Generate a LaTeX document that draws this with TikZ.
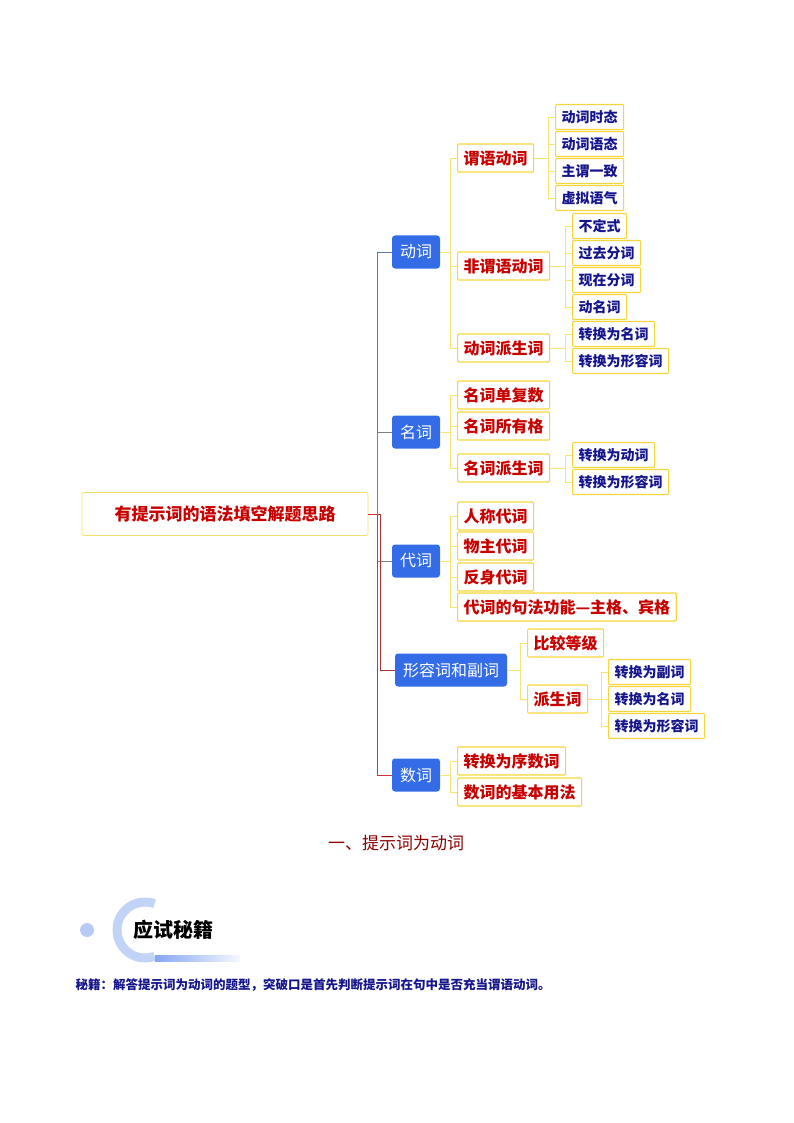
\documentclass[tikz,border=0pt]{standalone}
\usepackage{fontspec}
\newfontfamily\cjk{Noto Sans CJK SC}
\usetikzlibrary{arrows,calc,shapes}
\definecolor{lblue}{RGB}{52,108,232}
\definecolor{dred}{RGB}{200,0,0}
\definecolor{navy}{RGB}{20,20,140}
\definecolor{ylw}{RGB}{245,215,60}
\tikzstyle{root}=[rectangle,draw=ylw!80,line width=0.8pt,fill=white,rounded corners=2pt,minimum width=286pt,minimum height=43pt,font=\cjk\bfseries\fontsize{17}{17}\selectfont,text=dred]
\tikzstyle{lone}=[rectangle,fill=lblue,rounded corners=3pt,minimum height=33pt,inner xsep=8pt,font=\cjk\fontsize{16}{16}\selectfont,text=white]
\tikzstyle{ltwo}=[rectangle,draw=ylw,line width=1.2pt,fill=white,rounded corners=1pt,minimum height=28pt,inner xsep=6pt,font=\cjk\bfseries\fontsize{16}{16}\selectfont,text=dred,anchor=west]
\tikzstyle{lthree}=[rectangle,draw=ylw,line width=1.2pt,fill=white,rounded corners=1pt,minimum height=25pt,inner xsep=6pt,font=\cjk\bfseries\fontsize{14}{14}\selectfont,text=navy,anchor=west]
\tikzstyle{link}=[draw=ylw!70,line width=0.6pt]
\newcommand{\branch}[4][ylw!70]{\draw[link,draw=#1] (#2.east) -| ([xshift=-#4pt]#3.west) -- (#3.west);}

\begin{document}
\begin{tikzpicture}[x=1pt,y=-1pt]
	\useasboundingbox (0,0) rectangle (794,1123);

	% main tree
	\node[root] (root) at (225,514) {有提示词的语法填空解题思路};

	\node[lone] (verb) at (416,252) {动词};
	\node[lone] (noun) at (416,432) {名词};
	\node[lone] (pron) at (416,561) {代词};
	\node[lone] (adj) at (451,670) {形容词和副词};
	\node[lone] (num) at (416,775) {数词};

	\branch[lblue!50!gray]{root}{verb}{15}
	\branch[gray]{root}{noun}{15}
	\branch[gray]{root}{pron}{15}
	\branch[dred!60!gray]{root}{adj}{15}
	\branch[dred!80]{root}{num}{15}

	% verbs
	\node[ltwo] (pred) at (457,158) {谓语动词};
	\node[ltwo] (nonpred) at (457,266) {非谓语动词};
	\node[ltwo] (vder) at (457,348) {动词派生词};
	\foreach \n in {pred,nonpred,vder} {\branch{verb}{\n}{7}}

	\node[lthree] (tense) at (555,117) {动词时态};
	\node[lthree] (voice) at (555,144) {动词语态};
	\node[lthree] (agree) at (555,171) {主谓一致};
	\node[lthree] (subj) at (555,198) {虚拟语气};
	\foreach \n in {tense,voice,agree,subj} {\branch{pred}{\n}{7}}

	\node[lthree] (inf) at (572,226) {不定式};
	\node[lthree] (pastp) at (572,253) {过去分词};
	\node[lthree] (presp) at (572,280) {现在分词};
	\node[lthree] (ger) at (572,307) {动名词};
	\foreach \n in {inf,pastp,presp,ger} {\branch{nonpred}{\n}{7}}

	\node[lthree] (vton) at (572,334) {转换为名词};
	\node[lthree] (vtoa) at (572,361) {转换为形容词};
	\foreach \n in {vton,vtoa} {\branch{vder}{\n}{7}}

	% nouns
	\node[ltwo] (plural) at (457,395) {名词单复数};
	\node[ltwo] (poss) at (457,426) {名词所有格};
	\node[ltwo] (nder) at (457,468) {名词派生词};
	\foreach \n in {plural,poss,nder} {\branch{noun}{\n}{7}}

	\node[lthree] (ntov) at (572,455) {转换为动词};
	\node[lthree] (ntoa) at (572,482) {转换为形容词};
	\foreach \n in {ntov,ntoa} {\branch{nder}{\n}{7}}

	% pronouns
	\node[ltwo] (pers) at (457,516) {人称代词};
	\node[ltwo] (own) at (457,546) {物主代词};
	\node[ltwo] (refl) at (457,577) {反身代词};
	\node[ltwo] (synt) at (457,607) {代词的句法功能—主格、宾格};
	\foreach \n in {pers,own,refl,synt} {\branch{pron}{\n}{7}}

	% adjectives and adverbs
	\node[ltwo] (comp) at (527,643) {比较等级};
	\node[ltwo] (ader) at (527,699) {派生词};
	\foreach \n in {comp,ader} {\branch{adj}{\n}{7}}

	\node[lthree] (atoadv) at (608,672) {转换为副词};
	\node[lthree] (aton) at (608,699) {转换为名词};
	\node[lthree] (atoa) at (608,726) {转换为形容词};
	\foreach \n in {atoadv,aton,atoa} {\branch{ader}{\n}{7}}

	% numerals
	\node[ltwo] (ord) at (457,761) {转换为序数词};
	\node[ltwo] (basic) at (457,792) {数词的基本用法};
	\foreach \n in {ord,basic} {\branch{num}{\n}{7}}

	% caption
	\node[font=\cjk\fontsize{17}{17}\selectfont,text=dred!70!black] (cap) at (396,843) {一、提示词为动词};

	% tips logo
	\fill[lblue!35] (87,930) circle (7pt);
	\draw[lblue!30,line width=9pt] (145,930) ++(70:28pt) arc (70:290:28pt);
	\shade[left color=lblue!60,right color=lblue!5] (155,955) rectangle (240,961);
	\node[font=\cjk\bfseries\fontsize{20}{20}\selectfont] (tips) at (173,930) {应试秘籍};
	\node[font=\cjk\bfseries\fontsize{12.5}{12.5}\selectfont,text=navy,anchor=west] (secret) at (72,985) {秘籍：解答提示词为动词的题型，突破口是首先判断提示词在句中是否充当谓语动词。};
\end{tikzpicture}
\end{document}
